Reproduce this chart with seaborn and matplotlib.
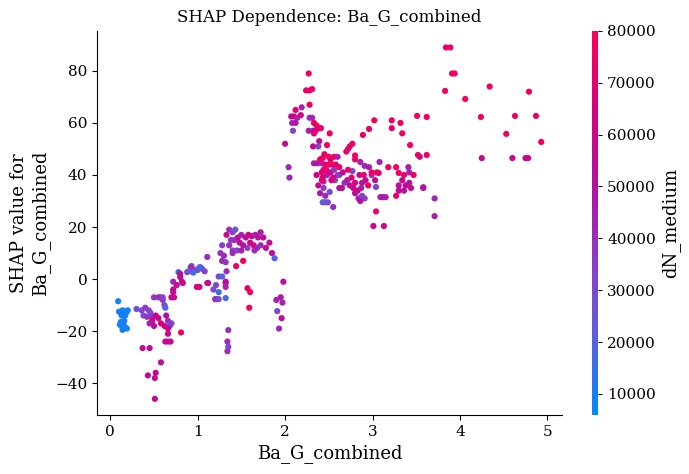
import numpy as np
import pandas as pd
import seaborn as sns
import matplotlib.pyplot as plt
from matplotlib.colors import LinearSegmentedColormap, Normalize
from matplotlib.cm import ScalarMappable

# feature value, SHAP value, colour feature (dN_medium)
ba_g = [
    0.09, 0.10, 0.12, 0.14, 0.16, 0.18, 0.20, 0.13, 0.17, 0.11, 0.13, 0.15, 0.17, 0.19, 0.14, 0.12, 0.16,
    0.30, 0.36, 0.40, 0.44, 0.38, 0.42, 0.46, 0.48,
    0.57, 0.60, 0.62, 0.63, 0.72, 0.70,
    0.48, 0.52, 0.55, 0.58, 0.62, 0.50, 0.66, 0.68, 0.70, 0.64, 0.45,
    0.66, 0.66, 0.63, 0.66, 0.69, 0.81, 0.37, 0.45, 0.58, 0.43, 0.52, 0.51, 0.51,
    0.78, 0.88, 0.93, 1.00, 1.03, 0.72, 0.80, 0.83, 0.76, 0.72, 0.73, 0.99, 0.50, 0.55, 0.60,
    1.11, 1.21, 1.24, 1.18, 1.22, 1.32, 1.32, 1.57, 1.59, 1.35, 1.34, 1.35, 1.34,
    1.33, 1.36, 1.40, 1.43, 1.38, 1.42, 1.46, 1.50, 1.55, 1.58, 1.62, 1.66, 1.69, 1.72, 1.75,
    1.48, 1.52, 1.57, 1.60, 1.64, 1.68, 1.72, 1.78, 1.82, 1.85, 1.88, 1.45, 1.40, 1.36, 1.50, 1.65,
    1.28, 1.26, 1.30, 1.28, 1.32, 1.40, 1.52, 1.44, 1.33, 1.24, 1.28, 1.32, 1.32, 1.20, 1.24,
    1.60, 1.12, 1.02, 1.11, 0.92, 0.98, 1.02, 1.05, 1.08, 0.95, 0.90, 0.80, 0.82,
    1.98, 1.90, 1.95, 1.91, 1.96, 1.93, 1.97,
    2.04, 2.05, 2.00,
    2.27, 2.24, 2.28, 2.31, 2.28, 2.19, 2.12, 2.07, 2.10, 2.14, 2.18, 2.08, 2.12, 2.09, 2.28, 2.31,
    2.33, 2.36, 2.39, 2.35, 2.41, 2.27, 2.32, 2.33, 2.39, 2.32, 2.38, 2.51, 2.48, 2.43,
    2.50, 2.56, 2.60, 2.33, 2.37, 2.42, 2.46, 2.50, 2.54, 2.58,
    2.44, 2.48, 2.52, 2.56, 2.60, 2.43, 2.44, 2.44, 2.46, 2.43, 2.46, 2.49, 2.55, 2.51,
    2.57, 2.62, 2.68, 2.65, 2.71, 2.77, 2.72, 2.77, 2.80, 2.80,
    2.72, 2.76, 2.80, 2.85, 2.88, 2.92, 2.78, 2.83, 2.87, 2.90, 2.74, 2.95,
    2.80, 2.84, 2.88, 2.91, 2.86, 2.86, 2.91, 2.89, 2.96, 3.02,
    2.99, 3.03, 3.05, 2.96, 2.99, 3.04, 3.08, 3.07, 3.09, 3.12, 3.15, 3.04, 3.01, 3.13,
    3.18, 3.27, 3.30, 3.34, 3.38, 3.42, 3.44, 3.36, 3.30, 3.30, 3.27, 3.36, 3.41, 3.42, 3.47,
    3.58, 3.54, 3.52, 3.62, 3.43, 3.34, 3.22, 3.22, 3.32, 3.51, 3.62, 3.71, 3.71,
    2.38, 2.40, 2.42, 2.36, 2.53, 2.62,
    2.40, 2.45, 2.47, 2.52, 2.42, 2.55, 2.62, 2.66, 2.70, 2.74,
    3.84, 3.89, 3.91, 3.94, 3.83, 4.34, 4.06, 4.79, 4.24, 4.63, 4.87, 4.53, 4.93,
    4.25, 4.60, 4.75, 4.78, 3.58,
]
shap_vals = [
    -8.5, -12.5, -13, -12, -12.5, -13, -12, -14, -14, -17.5, -18, -17, -18.5, -19, -19.5, -16.5, -16,
    -11.5, -12, -11, -12, -14, -14.5, -13, -15,
    -7, -8, -10, -11, -5, -7,
    -16, -14, -15, -17, -18, -18, -16, -18, -17, -14, -17,
    -19, -21, -24, -24, -24, -20.5, -26.5, -26.5, -32, -37, -36, -38, -46,
    2.7, 2.7, 5, 3.5, 4.6, -1, 0.8, -1.5, -2.3, -4, -7, -3, -7, -7, -7,
    -1.5, -2.3, -5, -4, -7.7, -7.3, -1.5, -3.5, -11, -19.6, -24, -26, -27.7,
    17, 19, 18, 19, 15, 15, 16, 17, 16, 17, 16.5, 17, 16, 18, 16,
    14, 13, 12, 14, 13, 12, 13, 12, 14, 10, 8, 11, 11, 13, 11, 11,
    13, 10, 9, 7, 6.5, 10, 7, 5, 3, 1, 1, -1, -3, -7.7, -7.7,
    -5, -1.5, -3, 8.5, 4.5, 3.5, 4.5, 4, 3, 2.5, 3, 2, -1,
    -1, -8, -7, -12.3, -15, -19, -9,
    43, 39, 52,
    79, 72.5, 72.5, 73, 67, 66, 65, 62.5, 62.5, 62, 63, 60, 60, 57, 62, 62,
    60, 59, 58, 57, 58, 57, 57, 56, 53, 51, 51, 56, 51.5, 46.5,
    47, 47, 47, 44.5, 44.5, 44.5, 44, 44, 44, 44,
    42, 40, 41, 42, 40, 39, 37.5, 35, 32, 29.5, 29.5, 29.5, 27.7, 33.5,
    38, 40, 37, 35, 38, 41.5, 50, 52, 47.5, 46,
    42, 39, 37, 40, 37, 38, 35, 34, 35, 40, 36, 36,
    33, 31, 32, 31, 30, 45, 43.5, 55.4, 57.7, 61,
    40, 38, 41, 43, 41, 35.4, 45, 40.8, 31.5, 31.5, 31.5, 26, 20.4, 20.4,
    43, 43, 40.8, 38, 36, 37, 35, 34, 36, 34, 32, 40, 43, 41, 40,
    35, 47, 47.7, 47.7, 51.5, 56, 61, 58, 60, 62.7, 62.3, 31, 24.2,
    36, 33, 38, 40, 38, 35,
    46, 48, 42, 46, 41, 39, 43, 41, 49, 51,
    89, 89, 79, 79, 72.3, 74, 69.2, 72, 62.3, 62.7, 62.7, 55.8, 52.7,
    46.5, 46.5, 46.5, 46.5, 35.3,
]
dn_medium = [
    9000, 10000, 9000, 10000, 9000, 10000, 9000, 10000, 9000, 9000, 10000, 9000, 10000, 9000, 10000, 9000, 10000,
    25000, 32000, 35000, 33000, 30000, 38000, 28000, 40000,
    35000, 38000, 30000, 20000, 55000, 55000,
    60000, 62000, 58000, 65000, 60000, 55000, 40000, 38000, 30000, 50000, 45000,
    55000, 58000, 55000, 58000, 55000, 75000, 55000, 55000, 55000, 55000, 58000, 55000, 55000,
    15000, 28000, 32000, 15000, 18000, 42000, 55000, 58000, 55000, 55000, 55000, 65000, 38000, 40000, 36000,
    55000, 30000, 15000, 30000, 40000, 18000, 42000, 75000, 75000, 40000, 42000, 30000, 40000,
    60000, 40000, 35000, 25000, 38000, 40000, 50000, 45000, 55000, 60000, 55000, 45000, 50000, 45000, 55000,
    55000, 50000, 35000, 60000, 65000, 45000, 40000, 55000, 55000, 52000, 20000, 30000, 35000, 40000, 45000, 40000,
    32000, 38000, 40000, 42000, 38000, 42000, 75000, 75000, 40000, 30000, 18000, 55000, 45000, 40000, 30000,
    75000, 55000, 62000, 40000, 40000, 35000, 20000, 18000, 35000, 15000, 25000, 55000, 58000,
    55000, 45000, 48000, 30000, 55000, 42000, 45000,
    42000, 42000, 55000,
    75000, 75000, 75000, 72000, 75000, 45000, 72000, 50000, 65000, 45000, 60000, 42000, 48000, 32000, 40000, 42000,
    75000, 72000, 75000, 70000, 72000, 45000, 48000, 72000, 58000, 60000, 32000, 75000, 75000, 72000,
    75000, 72000, 45000, 45000, 48000, 42000, 75000, 72000, 75000, 70000,
    55000, 45000, 60000, 38000, 35000, 60000, 40000, 35000, 42000, 25000, 25000, 28000, 40000, 30000,
    30000, 35000, 40000, 55000, 45000, 28000, 45000, 75000, 75000, 72000,
    75000, 70000, 65000, 58000, 50000, 55000, 60000, 65000, 45000, 70000, 55000, 75000,
    50000, 45000, 30000, 35000, 50000, 45000, 42000, 72000, 72000, 75000,
    40000, 55000, 70000, 45000, 75000, 30000, 45000, 72000, 45000, 48000, 45000, 75000, 60000, 60000,
    75000, 75000, 72000, 55000, 58000, 50000, 55000, 50000, 55000, 58000, 72000, 72000, 45000, 45000, 75000,
    58000, 55000, 72000, 75000, 75000, 75000, 75000, 72000, 72000, 75000, 75000, 42000, 45000,
    55000, 48000, 72000, 60000, 65000, 50000,
    75000, 72000, 72000, 75000, 70000, 60000, 72000, 55000, 75000, 72000,
    75000, 75000, 75000, 75000, 75000, 75000, 75000, 75000, 75000, 75000, 75000, 75000, 75000,
    58000, 58000, 58000, 58000, 50000,
]

df = pd.DataFrame({"Ba_G_combined": ba_g, "shap": shap_vals, "dN_medium": dn_medium})

red_blue = LinearSegmentedColormap.from_list(
    "red_blue", ["#008bfb", "#5a5fe0", "#8e3cc4", "#b4109f", "#d8007e", "#ff0052"])
vmin, vmax = 5900, 80000

plt.rcParams['font.family'] = ['DejaVu Serif']
fig = plt.figure(figsize=(6.89, 4.74), dpi=100)
ax = fig.add_axes([0.141, 0.124, 0.675, 0.811])
sns.scatterplot(data=df, x="Ba_G_combined", y="shap", hue="dN_medium",
                palette=red_blue, hue_norm=(vmin, vmax), s=20, linewidth=0,
                alpha=1, legend=False, ax=ax)
ax.set_xlim(-0.15, 5.17)
ax.set_ylim(-52.3, 95.4)
ax.set_xticks([0, 1, 2, 3, 4, 5])
ax.set_yticks([-40, -20, 0, 20, 40, 60, 80])
ax.spines['top'].set_visible(False)
ax.spines['right'].set_visible(False)
ax.tick_params(labelsize=11)
ax.set_xlabel("Ba_G_combined", fontsize=13)
ax.set_ylabel("SHAP value for\nBa_G_combined", fontsize=13)
ax.set_title("SHAP Dependence: Ba_G_combined", fontsize=12)

cax = fig.add_axes([0.859, 0.124, 0.009, 0.811])
sm = ScalarMappable(norm=Normalize(vmin, vmax), cmap=red_blue)
cb = fig.colorbar(sm, cax=cax)
cb.outline.set_visible(False)
cb.set_ticks([10000, 20000, 30000, 40000, 50000, 60000, 70000, 80000])
cb.ax.tick_params(labelsize=11, length=3)
cb.set_label("dN_medium", fontsize=13)

fig.savefig("out.png", dpi=100)
